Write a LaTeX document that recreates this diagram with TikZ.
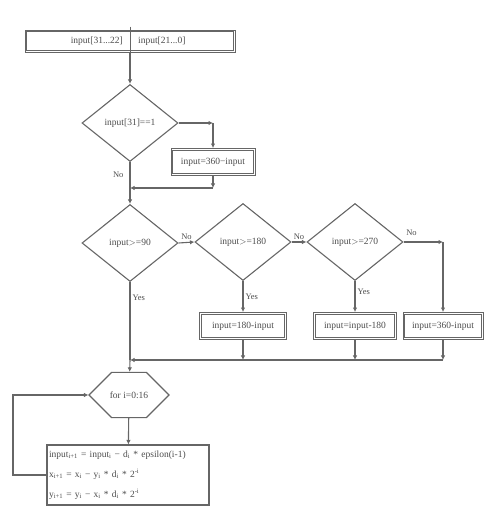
\documentclass[tikz,border=0pt]{standalone}
\usepackage{fontspec}
\setmainfont{Liberation Serif}
\usepackage{tikz}
\usetikzlibrary{shapes.geometric, shapes.misc, arrows.meta, calc}
\definecolor{linegray}{gray}{0.40}
\definecolor{textgray}{gray}{0.30}
\tikzset{
  flowline/.style={draw=linegray, line width=1.1pt},
  arrowline/.style={flowline, -{Latex[length=4.5pt, width=4.5pt]}},
  process/.style={rectangle, draw=linegray, line width=0.9pt, minimum height=27pt, inner sep=2pt, text=textgray, font=\fontsize{9.5}{11}\selectfont,
    append after command={\pgfextra{\draw[linegray, line width=0.8pt] ([shift={(2.2pt,2.2pt)}]\tikzlastnode.south west) rectangle ([shift={(-2.2pt,-2.2pt)}]\tikzlastnode.north east);}}},
  decision/.style={diamond, draw=linegray, line width=1.1pt, minimum width=96pt, minimum height=77pt, inner sep=0pt, text=textgray, font=\fontsize{9.5}{11}\selectfont},
  loophex/.style={chamfered rectangle, chamfered rectangle xsep=11pt, chamfered rectangle ysep=20.5pt, draw=linegray, line width=1.1pt, minimum width=80pt, minimum height=41pt, inner sep=0pt, text=textgray, font=\fontsize{9.5}{11}\selectfont},
  calcbox/.style={rectangle, draw=linegray, line width=1.1pt, text width=158pt, minimum height=60pt, align=left, inner sep=2pt, text=textgray, font=\fontsize{9.5}{11}\selectfont},
  tag/.style={text=textgray, font=\fontsize{8.5}{10}\selectfont, inner sep=2pt},
}

\begin{document}
\begin{tikzpicture}[x=1pt, y=1pt]
\useasboundingbox (0,0) rectangle (490,508);
\node[process, minimum width=210pt, minimum height=22pt] (inbox) at (130,467) {};
\node[tag, font=\fontsize{9.5}{11}\selectfont, anchor=east] (inhi) at ([xshift=-5pt]inbox.center) {input[31...22]};
\node[tag, font=\fontsize{9.5}{11}\selectfont, anchor=west] (inlo) at ([xshift=6pt]inbox.center) {input[21...0]};
\node[decision] (sign) at (130,385) {input[31]==1};
\node[process, minimum width=84pt] (neg) at (213,346) {input=360−input};
\coordinate (c1) at (sign.east -| neg);
\coordinate (c2) at (213,320);
\coordinate (j1) at (130,320);
\node[decision] (ge90) at (130,265) {input$>$=90};
\node[decision] (ge180) at (243,266) {input$>$=180};
\node[decision] (ge270) at (355,266) {input$>$=270};
\node[process, minimum width=87pt] (sub180) at (243,182) {input=180-input};
\node[process, minimum width=83pt] (min180) at (355,182) {input=input-180};
\node[process, minimum width=80pt] (sub360) at (443,182) {input=360-input};
\coordinate (c4) at (ge270.east -| sub360);
\coordinate (m1) at (243,148);
\coordinate (m2) at (355,148);
\coordinate (m3) at (443,148);
\coordinate (j2) at (130,148);
\node[loophex] (loop) at (129,113) {for i=0:16};
\node[calcbox] (calc) at (128,33) {input\textsubscript{i+1} = input\textsubscript{i} − d\textsubscript{i} * epsilon(i-1)\\[9pt]
x\textsubscript{i+1} = x\textsubscript{i} − y\textsubscript{i} * d\textsubscript{i} * 2\textsuperscript{-i}\\[9pt]
y\textsubscript{i+1} = y\textsubscript{i} − x\textsubscript{i} * d\textsubscript{i} * 2\textsuperscript{-i}};
\coordinate (back) at (13,33);

\draw[linegray, line width=0.9pt] ([yshift=3pt]inbox.north) -- (inbox.south);
\draw[arrowline] (inbox) -- (sign);
\draw[arrowline] (sign.east) -- (c1);
\draw[arrowline] (c1) -- (neg);
\draw[arrowline] (neg) -- (c2);
\draw[arrowline] (c2) -- (j1);
\draw[flowline] (sign) -- node[left, tag, xshift=-4pt] {No} (j1);
\draw[arrowline] (j1) -- (ge90);
\draw[arrowline] (ge90.east) -- node[above, tag] {No} (ge180.west);
\draw[arrowline] (ge180.east) -- node[above, tag] {No} (ge270.west);
\draw[arrowline] (ge270.east) -- node[pos=0.2, above, tag, yshift=4pt] {No} (c4);
\draw[arrowline] (c4) -- (sub360);
\draw[arrowline] (ge180) -- node[right, tag] {Yes} (sub180);
\draw[arrowline] (ge270) -- node[pos=0.35, right, tag] {Yes} (min180);
\draw[flowline] (ge90) -- node[pos=0.2, right, tag] {Yes} (j2);
\draw[arrowline] (sub180) -- (m1);
\draw[arrowline] (min180) -- (m2);
\draw[arrowline] (sub360) -- (m3);
\draw[arrowline] (m3) -- (j2);
\draw[arrowline] (j2) -- (loop);
\draw[arrowline] (loop) -- (calc);
\draw[arrowline] (calc.west) -- (back) |- (loop.west);
\end{tikzpicture}
\end{document}
